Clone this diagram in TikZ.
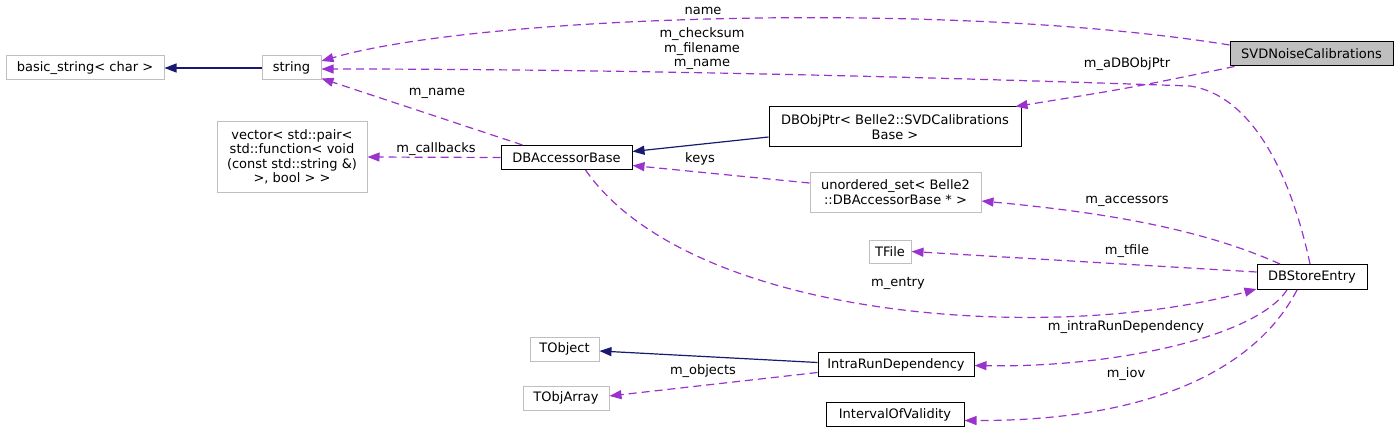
\documentclass[tikz,border=0pt]{standalone}
\usepackage{fontspec}
\setmainfont{DejaVu Sans}
\usepackage{xcolor}
\usepackage{tikz}
\usetikzlibrary{arrows.meta}
\definecolor{dgpurple}{HTML}{9A32CD}
\definecolor{dgnavy}{HTML}{191970}
\definecolor{dggray}{HTML}{BFBFBF}

\begin{document}
\begin{tikzpicture}[x=1pt,y=-1pt,
	every node/.style={font=\fontsize{13}{14.5}\selectfont, align=center, inner sep=0pt},
	cls/.style={draw=black, line width=1pt, minimum height=24pt},
	ext/.style={draw=dggray, line width=1pt, minimum height=24pt},
	inh/.style={draw=dgnavy, line width=1.2pt, -{Triangle[length=12pt,width=9pt]}},
	dep/.style={draw=dgpurple, line width=1.2pt, dash pattern=on 8pt off 5pt, -{Triangle[length=12pt,width=9pt]}},
	lbl/.style={fill=none}]
	\useasboundingbox (0,0) rectangle (1400,433);
			\node[ext, minimum width=158pt] at (85,68) (bstr){basic\_string< char >};
			\node[ext, minimum width=59pt] at (291.5,68) (str){string};
			\node[ext, minimum width=150pt, minimum height=70pt] at (292,157) (vec){vector< std::pair<\\ std::function< void\\(const std::string \&)\\>, bool > >};
			\node[cls, minimum width=131pt] at (566.5,157.5) (dbab){DBAccessorBase};
			\node[cls, minimum width=252pt, minimum height=40pt] at (895,127) (dbobj){DBObjPtr< Belle2::SVDCalibrations\\Base >};
			\node[ext, minimum width=171pt, minimum height=40pt] at (895.5,192) (uset){unordered\_set< Belle2\\::DBAccessorBase * >};
			\node[cls, fill=dggray, minimum width=163pt] at (1311.5,54) (svd){SVDNoiseCalibrations};
			\node[ext, minimum width=42pt, minimum height=23pt] at (890,251.5) (tfile){TFile};
			\node[cls, minimum width=110pt, minimum height=25pt] at (1312,277) (dbse){DBStoreEntry};
			\node[ext, minimum width=69pt] at (564.5,349) (tobj){TObject};
			\node[cls, minimum width=156pt] at (896,364.5) (intra){IntraRunDependency};
			\node[ext, minimum width=86pt] at (566,398) (tobja){TObjArray};
			\node[cls, minimum width=138pt] at (895,414.5) (iov){IntervalOfValidity};
			\draw[inh] (str.west) -- (bstr.east);
			\draw[inh] ([yshift=-10pt]dbobj.west) -- ([yshift=6pt]dbab.east);
			\draw[inh] ([yshift=2pt]intra.west) -- ([yshift=-2pt]tobj.east);
			\draw[dep] ([yshift=9pt]svd.west) .. controls (950,0) and (480,15) .. ([yshift=7pt]str.east);
			\draw[dep] ([xshift=-2pt]dbse.north) .. controls (1290,170) and (1250,95) .. (1190,86) .. controls (900,76) and (600,69) .. ([yshift=-1pt]str.east);
			\draw[dep] ([xshift=-44pt]dbab.north) -- ([yshift=2pt]str.south east);
			\draw[dep] (dbab.west) -- (vec.east);
			\draw[dep] ([yshift=9pt]uset.west) -- ([yshift=-8pt]dbab.east);
			\draw[dep] ([xshift=5pt]svd.south west) .. controls (1130,88) .. ([xshift=-6pt]dbobj.north east);
			\draw[dep] ([xshift=-32pt]dbse.north) .. controls (1200,228) and (1100,212) .. ([yshift=-9pt]uset.east);
			\draw[dep] ([yshift=5pt]dbse.west) -- (tfile.east);
			\draw[dep] ([xshift=19pt]dbab.south) .. controls (690,320) and (1050,345) .. ([yshift=-12pt]dbse.west);
			\draw[dep] ([xshift=-25pt]dbse.south) .. controls (1255,338) and (1110,368) .. ([yshift=-1pt]intra.east);
			\draw[dep] ([xshift=-15pt]dbse.south) .. controls (1250,380) and (1130,421) .. ([yshift=-6pt]iov.east);
			\draw[dep] ([yshift=-8pt]intra.west) -- ([yshift=2pt]tobja.east);
			\node[lbl] at (703,11) (lname){name};
			\node[lbl] at (702,49) (lchk){m\_checksum\\m\_filename\\m\_name};
			\node[lbl] at (437,93) (lmname){m\_name};
			\node[lbl] at (436,149) (lcb){m\_callbacks};
			\node[lbl] at (700,159) (lkeys){keys};
			\node[lbl] at (1127,64) (lptr){m\_aDBObjPtr};
			\node[lbl] at (1127,201) (lacc){m\_accessors};
			\node[lbl] at (1127,251) (ltf){m\_tfile};
			\node[lbl] at (898,283) (lent){m\_entry};
			\node[lbl] at (1126,327) (lird){m\_intraRunDependency};
			\node[lbl] at (703,371) (lobj){m\_objects};
			\node[lbl] at (1126,374) (liov){m\_iov};
		\end{tikzpicture}
\end{document}
